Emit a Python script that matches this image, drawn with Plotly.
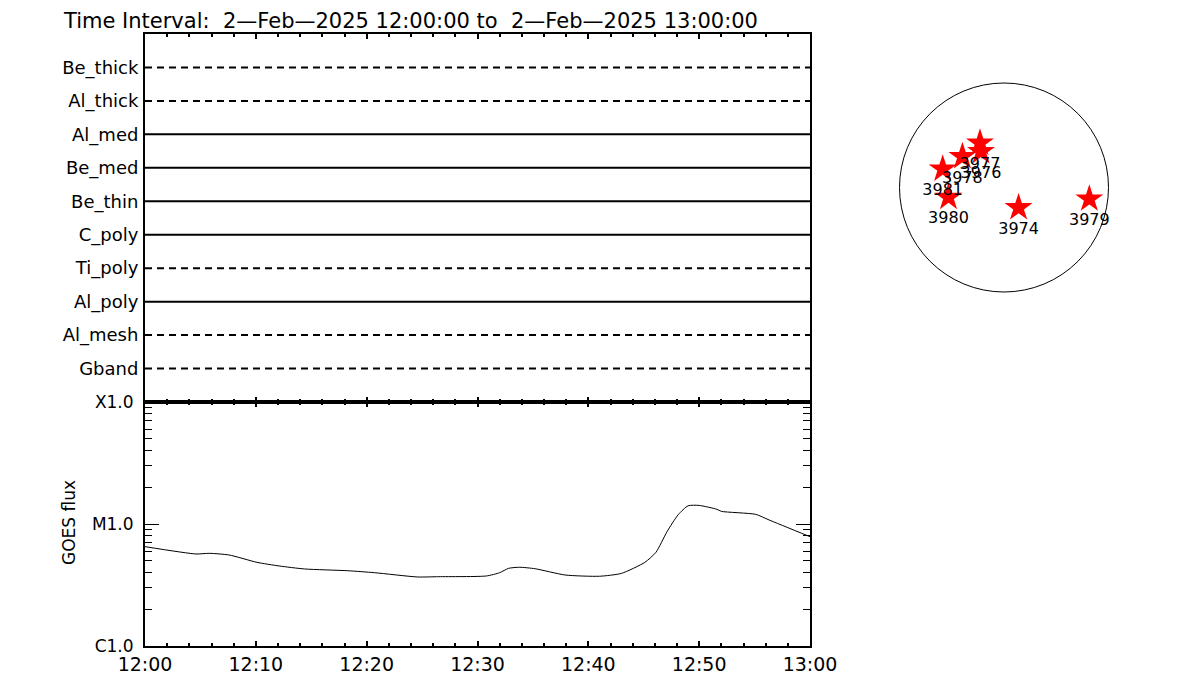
import plotly.graph_objects as go

# ---------------- data ----------------
channels = ["Be_thick", "Al_thick", "Al_med", "Be_med", "Be_thin",
            "C_poly", "Ti_poly", "Al_poly", "Al_mesh", "Gband"]
channel_dashed = [True, True, False, False, False, False, True, False, True, True]

t_start = "2025-02-02 12:00:00"
t_end = "2025-02-02 13:00:00"

goes_time = ["12:00:00", "12:04:36", "12:05:48", "12:07:36", "12:10:06", "12:12:06",
             "12:14:24", "12:18:18", "12:20:42", "12:24:36", "12:26:30", "12:30:48",
             "12:32:00", "12:32:48", "12:33:48", "12:35:12", "12:37:54", "12:41:00",
             "12:43:00", "12:45:06", "12:46:06", "12:47:06", "12:48:06", "12:49:00",
             "12:50:00", "12:51:36", "12:52:00", "12:55:06", "12:56:18", "13:00:00"]
goes_flux = [6.52e-6, 5.68e-6, 5.75e-6, 5.57e-6, 4.85e-6, 4.53e-6,
             4.28e-6, 4.14e-6, 3.99e-6, 3.68e-6, 3.70e-6, 3.75e-6,
             3.99e-6, 4.33e-6, 4.42e-6, 4.30e-6, 3.82e-6, 3.73e-6,
             3.94e-6, 4.85e-6, 5.86e-6, 8.65e-6, 1.19e-5, 1.41e-5,
             1.42e-5, 1.32e-5, 1.27e-5, 1.20e-5, 1.08e-5, 7.87e-6]

goes_tickvals = [1e-6, 1e-5, 1e-4]
goes_ticktext = ["C1.0", "M1.0", "X1.0"]

ar_numbers = ["3977", "3976", "3978", "3981", "3980", "3974", "3979"]
ar_x = [-224, -215, -388, -572, -518, 136, 796]   # arcsec
ar_y = [415, 336, 289, 172, -91, -188, -107]
sun_radius = 975

title_text = ("Time Interval:\u00a0\u00a02\u2014Feb\u20142025 12:00:00 to"
              "\u00a0\u00a02\u2014Feb\u20142025 13:00:00")

# ---------------- figure ----------------
W, H = 1200, 700
FONT = "DejaVu Sans"
OFF = 8  # page body margin

def px_x(p):
    return (p - OFF) / W

def px_y(p):
    return 1 - (p - OFF) / H

fig = go.Figure()

t_full = [t_start, t_end]
for i, name in enumerate(channels):
    level = len(channels) - i
    fig.add_trace(go.Scatter(
        x=t_full, y=[level, level], mode="lines",
        line=dict(color="black", width=2,
                  dash="7px,5px" if channel_dashed[i] else "solid"),
        xaxis="x", yaxis="y", showlegend=False, hoverinfo="skip"))

fig.add_trace(go.Scatter(
    x=["2025-02-02 " + t for t in goes_time], y=goes_flux, mode="lines",
    line=dict(color="black", width=1, shape="spline", smoothing=0.6),
    xaxis="x2", yaxis="y2", showlegend=False))

fig.add_trace(go.Scatter(
    x=ar_x, y=ar_y, mode="markers+text", text=ar_numbers,
    textposition="bottom center",
    textfont=dict(family=FONT, size=16, color="black"),
    marker=dict(symbol="star", size=21, color="red", line=dict(width=0)),
    xaxis="x3", yaxis="y3", showlegend=False, cliponaxis=False))

fig.add_shape(type="circle", xref="x3", yref="y3",
              x0=-sun_radius, x1=sun_radius, y0=-sun_radius, y1=sun_radius,
              line=dict(color="black", width=1), layer="below")

left, right = 145, 810
top1, mid, bot = 34, 402, 646

common_x = dict(type="date", range=[t_start, t_end], showgrid=False, zeroline=False,
                showline=True, linecolor="black", linewidth=2,
                ticks="inside", ticklen=5, tickwidth=2, tickcolor="black",
                dtick=600000, tick0=t_start, mirror="ticks", automargin=False,
                minor=dict(ticks="inside", ticklen=3, tickwidth=2, dtick=120000,
                           tickcolor="black", showgrid=False))

fig.update_layout(
    width=W, height=H, margin=dict(l=0, r=0, t=0, b=0, pad=0, autoexpand=False),
    paper_bgcolor="white", plot_bgcolor="white",
    font=dict(family=FONT, color="black"),
    xaxis=dict(domain=[px_x(left), px_x(right)], anchor="y",
               showticklabels=False, **common_x),
    yaxis=dict(domain=[px_y(mid), px_y(top1)], anchor="x", range=[0, len(channels) + 1],
               tickvals=list(range(len(channels), 0, -1)), ticktext=channels,
               ticks="", showgrid=False, zeroline=False, showline=True,
               linecolor="black", linewidth=2, mirror=True, automargin=False,
               ticklabelstandoff=1,
               tickfont=dict(family=FONT, size=18, color="black")),
    xaxis2=dict(domain=[px_x(left), px_x(right)], anchor="y2", matches="x",
                showticklabels=True, tickformat="%H:%M",
                tickfont=dict(family=FONT, size=19, color="black"), **common_x),
    yaxis2=dict(domain=[px_y(bot), px_y(mid)], anchor="x2", type="log",
                range=[-6, -4], tickvals=goes_tickvals, ticktext=goes_ticktext,
                ticks="inside", ticklen=14, tickwidth=1, tickcolor="black",
                showgrid=False, zeroline=False, showline=True, linecolor="black",
                linewidth=2, mirror="ticks", automargin=False,
                ticklabelstandoff=6,
                tickfont=dict(family=FONT, size=17, color="black"),
                minor=dict(ticks="inside", ticklen=7, tickwidth=1, tickcolor="black",
                           dtick="D1", showgrid=False)),
    xaxis3=dict(domain=[px_x(1004 - 117.9), px_x(1004 + 117.9)], anchor="y3",
                range=[-1100, 1100], visible=False, automargin=False),
    yaxis3=dict(domain=[px_y(187.5 + 117.9), px_y(187.5 - 117.9)], anchor="x3",
                range=[-1100, 1100], visible=False, automargin=False),
    annotations=[
        dict(text=title_text, x=px_x(62), y=1.0, xref="paper", yref="paper",
             xanchor="left", yanchor="top", showarrow=False, borderpad=0,
             font=dict(family=FONT, size=21, color="black")),
        dict(text="GOES flux", x=px_x(69), y=px_y(523), xref="paper", yref="paper",
             xanchor="center", yanchor="middle", showarrow=False, textangle=-90,
             font=dict(family=FONT, size=17, color="black")),
    ],
)

fig.write_html("out.html")
